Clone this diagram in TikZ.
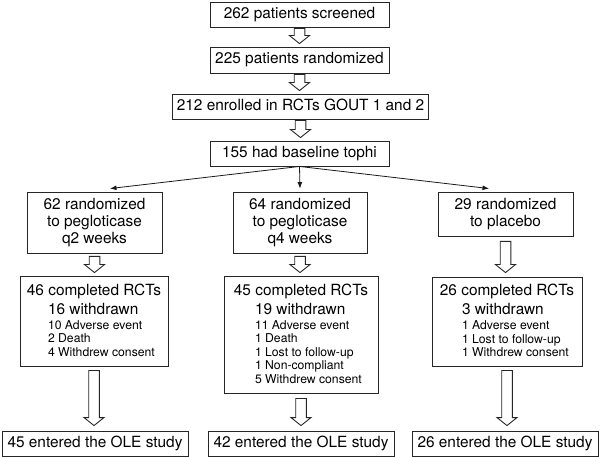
\documentclass[tikz,border=0pt]{standalone}
\usepackage{fontspec}
\setmainfont{TeX Gyre Heros}
\usetikzlibrary{calc,arrows.meta}
\newcommand\bigf{\fontsize{15.4pt}{17pt}\selectfont}
\newcommand\smf{\fontsize{12.2pt}{13.6pt}\selectfont}
\newcommand\ctrline[1]{\hbox to\hsize{\hss#1\hss}}
\newcommand\indline[2]{\hbox to\hsize{\hskip#1\relax#2\hss}}
\newcommand\lastdepth{\vrule width0pt height0pt depth2pt}
\newcommand\blockarrow[4]{%
  \coordinate (bas) at ($(#1.south)+(0,#3)$);
  \coordinate (bae) at ($(#1.south |- #2.north)+(0,-#4)$);
  \draw[blockarr] ($(bas)+(-5.3,0)$) -- ($(bas)+(5.3,0)$) -- ($(bae)+(5.3,-8)$)
    -- ($(bae)+(10,-8)$) -- (bae) -- ($(bae)+(-10,-8)$) -- ($(bae)+(-5.3,-8)$) -- cycle;}
\tikzset{
  box/.style={draw=black!85, line width=0.9pt, fill=white, inner sep=0pt, font=\bigf},
  onebox/.style={box, text height=11pt, text depth=3.2pt, align=center},
  blockarr/.style={draw=black!85, line width=0.9pt, fill=white, line join=miter},
  fan/.style={draw=black!90, line width=0.8pt, -{Latex[length=6.5pt,width=5pt]}}
}
\begin{document}
\begin{tikzpicture}[x=1pt,y=-1pt]
\useasboundingbox (0,0) rectangle (600,457);
% top chain
\node[onebox, minimum width=179pt, minimum height=25pt] (b1) at (299.5,14.5) {262 patients screened};
\node[onebox, minimum width=179pt, minimum height=26pt] (b2) at (299.5,60) {225 patients randomized};
\node[onebox, minimum width=256pt, minimum height=25pt] (b3) at (300.5,106.5) {212 enrolled in RCTs GOUT 1 and 2};
\node[onebox, minimum width=179pt, minimum height=25pt] (b4) at (299.5,153.5) {155 had baseline tophi};
% randomization row
\node[box, minimum width=135pt, minimum height=61pt] (r1) at (94.5,222.5)
  {\vbox{\hsize=135pt\lineskiplimit=-30pt\baselineskip=17pt
   \ctrline{62 randomized}\ctrline{to pegloticase}\ctrline{q2 weeks}}};
\node[box, minimum width=134pt, minimum height=61pt] (r2) at (300,222.5)
  {\vbox{\hsize=134pt\lineskiplimit=-30pt\baselineskip=17pt
   \ctrline{64 randomized}\ctrline{to pegloticase}\ctrline{q4 weeks}}};
\node[box, minimum width=135pt, minimum height=44pt] (r3) at (505.5,214)
  {\vbox{\hsize=135pt\lineskiplimit=-30pt\baselineskip=17pt
   \ctrline{29 randomized}\ctrline{to placebo}}};
% completed row
\node[box, minimum width=148pt, minimum height=90pt] (c1) at (94,321)
  {\vbox{\hsize=148pt\lineskiplimit=-30pt\baselineskip=19pt
   \ctrline{46 completed RCTs}
   \indline{28pt}{16 withdrawn}\baselineskip=15pt
   \indline{28pt}{\smf 10 Adverse event}\baselineskip=13.6pt
   \indline{28pt}{\smf 2 Death}
   \indline{28pt}{\smf 4 Withdrew consent\lastdepth}}};
\node[box, minimum width=154pt, minimum height=117pt] (c2) at (301,334.5)
  {\vbox{\hsize=154pt\lineskiplimit=-30pt\baselineskip=19pt
   \ctrline{45 completed RCTs}
   \indline{31pt}{19 withdrawn}\baselineskip=15pt
   \indline{31pt}{\smf 11 Adverse event}\baselineskip=13.6pt
   \indline{31pt}{\smf 1 Death}
   \indline{31pt}{\smf 1 Lost to follow-up}
   \indline{31pt}{\smf 1 Non-compliant}
   \indline{31pt}{\smf 5 Withdrew consent\lastdepth}}};
\node[box, minimum width=150pt, minimum height=89pt] (c3) at (507,321.5)
  {\vbox{\hsize=150pt\lineskiplimit=-30pt\baselineskip=19pt
   \ctrline{26 completed RCTs}
   \indline{30pt}{3 withdrawn}\baselineskip=15pt
   \indline{30pt}{\smf 1 Adverse event}\baselineskip=13.6pt
   \indline{30pt}{\smf 1 Lost to follow-up}
   \indline{30pt}{\smf 1 Withdrew consent\lastdepth}}};
% OLE row
\node[onebox, minimum width=186pt, minimum height=25pt] (o1) at (95,443.5) {45 entered the OLE study};
\node[onebox, minimum width=186pt, minimum height=25pt] (o2) at (301,443.5) {42 entered the OLE study};
\node[onebox, minimum width=186pt, minimum height=25pt] (o3) at (505,443.5) {26 entered the OLE study};
% hollow arrows
\blockarrow{b1}{b2}{1}{3}
\blockarrow{b2}{b3}{1}{3}
\blockarrow{b3}{b4}{1}{3}
\blockarrow{r1}{c1}{3}{3}
\blockarrow{r2}{c2}{3}{3}
\blockarrow{r3}{c3}{5}{4}
\blockarrow{c1}{o1}{4}{5}
\blockarrow{c2}{o2}{5}{5}
\blockarrow{c3}{o3}{4}{5}
% fan arrows
\coordinate (t1) at ($(r1.north)+(15.5,-3)$);
\coordinate (t2) at ($(r2.north)+(0,-3)$);
\coordinate (t3) at ($(r3.north)+(-16.5,-3)$);
\draw[fan] (b4.south) -- (t1);
\draw[fan] (b4.south) -- (t2);
\draw[fan] (b4.south) -- (t3);
\end{tikzpicture}
\end{document}
